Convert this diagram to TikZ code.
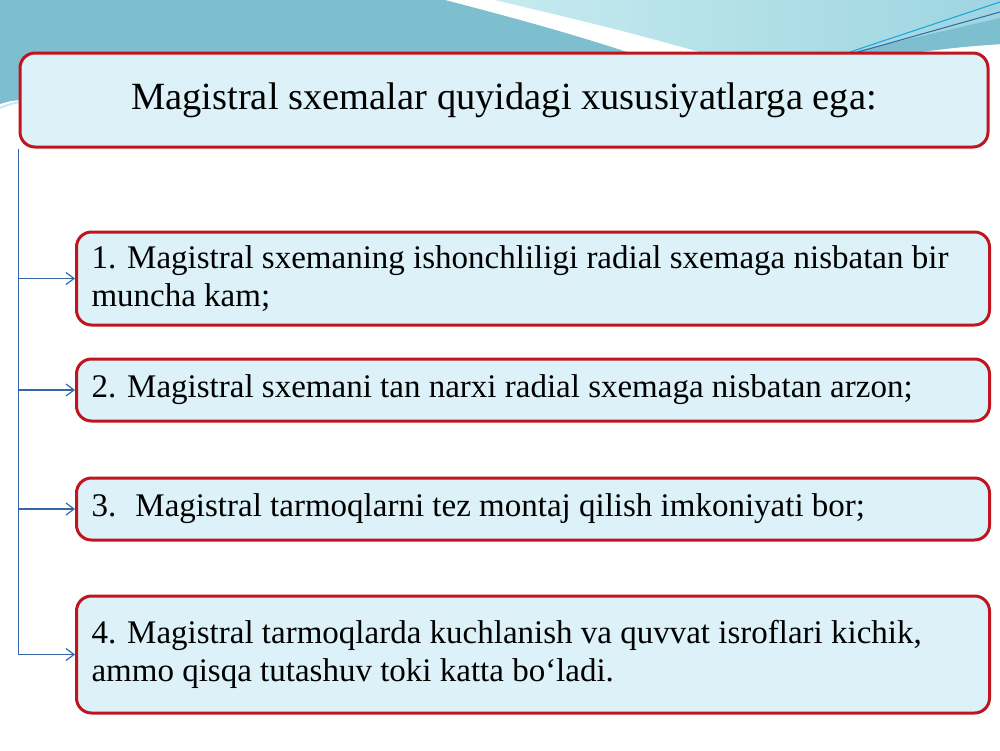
\documentclass[tikz,border=0pt]{standalone}
\usepackage{fontspec}
\setmainfont{Liberation Serif}
\usetikzlibrary{arrows.meta}
\definecolor{boxred}{HTML}{C0141E}
\definecolor{boxfill}{HTML}{DCF2F8}
\definecolor{conblue}{HTML}{3565AA}
\definecolor{teal1}{HTML}{7DBFCF}
\definecolor{lightbg}{HTML}{C6EAF0}
\definecolor{midbg}{HTML}{9ED5E0}
\tikzset{
  card/.style={draw=boxred, line width=3pt, fill=boxfill, rounded corners=15pt,
    minimum width=913pt, inner xsep=15pt, inner ysep=0pt, align=flush left,
    text width=883pt, font=\fontsize{33}{38}\selectfont, anchor=west},
  titlecard/.style={draw=boxred, line width=3pt, fill=boxfill, rounded corners=15pt,
    minimum width=968pt, minimum height=94pt, align=center,
    font=\fontsize{38.5}{46}\selectfont},
  conn/.style={draw=conblue, line width=1.2pt, -{Straight Barb[length=8pt,width=12pt,line width=1.2pt]}}
}
\begin{document}
\begin{tikzpicture}[x=1pt,y=-1pt]
\useasboundingbox (0,0) rectangle (1000,750);
\fill[white] (0,0) rectangle (1000,750);
% decorative background
\fill[teal1] (0,0) -- (445,0) .. controls (530,22) and (600,42) .. (650,60) -- (20,60) -- (20,100) .. controls (10,101) .. (0,104) -- cycle;
\draw[lightbg, line width=2pt] (0,108) .. controls (10,104) .. (20,102);
\shade[left color=lightbg, right color=midbg] (495,0) -- (1000,0) -- (1000,44) .. controls (960,47) .. (920,52) -- (700,52) .. controls (620,30) .. (495,0) -- cycle;
\fill[teal1] (852,52) -- (1000,18) -- (1000,44) .. controls (960,47) .. (920,52) -- cycle;
\draw[cyan!80!teal, line width=1pt] (850,52) -- (1000,2);
\draw[conblue, line width=1pt] (858,52) -- (1000,12);
% boxes
\node[titlecard] (title) at (504,100) {Magistral sxemalar quyidagi xususiyatlarga ega:};
\node[card, minimum height=93pt] (b1) at (75,278.5) {1. Magistral sxemaning ishonchliligi radial sxemaga nisbatan bir\\muncha kam;};
\node[card, minimum height=62pt] (b2) at (75,390) {2. Magistral sxemani tan narxi radial sxemaga nisbatan arzon;};
\node[card, minimum height=62pt] (b3) at (75,509) {3.~ Magistral tarmoqlarni tez montaj qilish imkoniyati bor;};
\node[card, minimum height=117pt] (b4) at (75,654.5) {4. Magistral tarmoqlarda kuchlanish va quvvat isroflari kichik,\\ammo qisqa tutashuv toki katta bo‘ladi.};
% connectors
\draw[conn] (title.south west) |- (b1.west);
\draw[conn] (title.south west) |- (b2.west);
\draw[conn] (title.south west) |- (b3.west);
\draw[conn] (title.south west) |- (b4.west);
\end{tikzpicture}
\end{document}
